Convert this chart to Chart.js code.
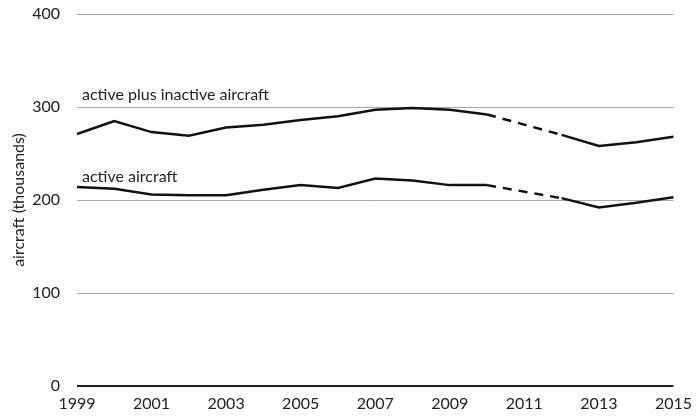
<!DOCTYPE html>
<html>
<head>
<meta charset="utf-8">
<script src="https://cdn.jsdelivr.net/npm/chart.js@4"></script>
<style>
  html, body { margin: 0; padding: 0; background: #fff; }
  #wrap { width: 700px; height: 419px; position: relative; }
</style>
</head>
<body>
<div id="wrap"><canvas id="chart"></canvas></div>
<script>
// 数据
const years = ['1999','2000','2001','2002','2003','2004','2005','2006','2007','2008','2009','2010','2011','2012','2013','2014','2015'];
const totalAircraft = [271, 285, 273, 269, 278, 281, 286, 290, 297, 299, 297, 292, null, 270, 258, 262, 268];
const activeAircraft = [214, 212, 206, 205, 205, 211, 216, 213, 223, 221, 216, 216, null, 202, 192, 197, 203];
const yTicks = [0, 100, 200, 300, 400];
const seriesLabels = ['active plus inactive aircraft', 'active aircraft'];

const FONT = 'Lato, "Open Sans", sans-serif';

// 缺失年份用虚线连接
const dashGap = ctx => (ctx.p0.skip || ctx.p1.skip) ? [9, 7] : undefined;

// 系列名称直接写在线上方
const lineLabels = {
  id: 'lineLabels',
  afterDatasetsDraw(chart) {
    const { ctx, scales: { x, y } } = chart;
    ctx.save();
    ctx.font = '16px ' + FONT;
    ctx.fillStyle = '#222';
    ctx.textBaseline = 'alphabetic';
    ctx.textAlign = 'left';
    const x0 = x.getPixelForValue(0) + 5;
    ctx.fillText(seriesLabels[0], x0, y.getPixelForValue(308));
    ctx.fillText(seriesLabels[1], x0, y.getPixelForValue(219));
    ctx.restore();
  }
};

new Chart(document.getElementById('chart').getContext('2d'), {
  type: 'line',
  data: {
    labels: years,
    datasets: [
      {
        label: seriesLabels[0],
        data: totalAircraft,
        borderColor: '#111',
        borderWidth: 2.5,
        pointRadius: 0,
        tension: 0,
        spanGaps: true,
        segment: { borderDash: dashGap }
      },
      {
        label: seriesLabels[1],
        data: activeAircraft,
        borderColor: '#111',
        borderWidth: 2.5,
        pointRadius: 0,
        tension: 0,
        spanGaps: true,
        segment: { borderDash: dashGap }
      }
    ]
  },
  options: {
    responsive: true,
    maintainAspectRatio: false,
    animation: false,
    layout: { padding: { top: 14, right: 18, left: 1, bottom: 0 } },
    plugins: {
      legend: { display: false },
      tooltip: { enabled: false }
    },
    scales: {
      x: {
        grid: { display: false, drawTicks: false },
        border: { display: false },
        afterFit: s => { s.height = 33; },
        ticks: {
          autoSkip: false,
          maxRotation: 0,
          color: '#222',
          padding: 8,
          font: { family: FONT, size: 16 },
          callback: (v, i) => (i % 2 === 0 ? years[i] : '')
        }
      },
      y: {
        min: 0,
        max: 400,
        afterBuildTicks: axis => { axis.ticks = yTicks.map(v => ({ value: v })); },
        afterFit: s => { s.width = 76; s.paddingTop = 0; s.paddingBottom = 0; },
        grid: {
          drawTicks: false,
          color: c => c.tick.value === 0 ? '#222' : '#a8a8a8',
          lineWidth: c => c.tick.value === 0 ? 2 : 1
        },
        border: { display: false },
        ticks: {
          color: '#222',
          padding: 17,
          font: { family: FONT, size: 16 }
        },
        title: {
          display: true,
          text: 'aircraft (thousands)',
          color: '#222',
          padding: { top: 8, bottom: 5 },
          font: { family: FONT, size: 16 }
        }
      }
    }
  },
  plugins: [lineLabels]
});
</script>
</body>
</html>
